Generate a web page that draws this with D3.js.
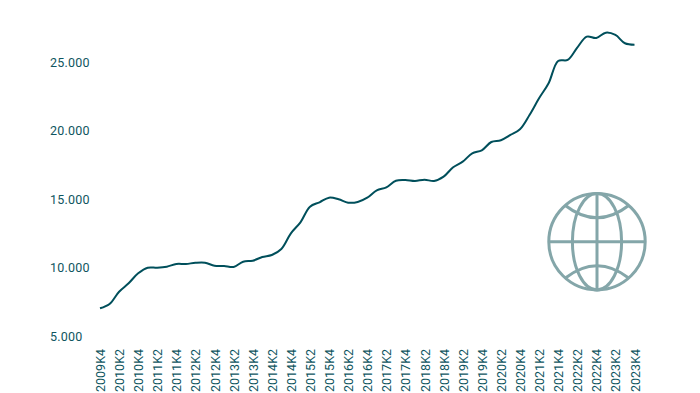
<!DOCTYPE html>
<html>
<head>
<meta charset="utf-8">
<script src="https://cdnjs.cloudflare.com/ajax/libs/d3/7.8.5/d3.min.js"></script>
<style>
  html, body { margin: 0; padding: 0; background: #fff; }
  text { font-family: "Roboto", sans-serif; fill: #0f5560; }
</style>
</head>
<body>
<svg id="chart" width="700" height="393"></svg>
<script>
var startYear = 2009;
var values = [
  7022, 7336, 8234, 8847, 9577, 9986, 9986, 10059, 10256, 10256,
  10344, 10350, 10132, 10110, 10037, 10424, 10497, 10767, 10913, 11351,
  12497, 13300, 14439, 14760, 15096, 14979, 14731, 14782, 15096, 15636,
  15855, 16337, 16388, 16315, 16410, 16315, 16629, 17315, 17724, 18337,
  18556, 19162, 19286, 19673, 20089, 21133, 22352, 23447, 25075, 25148,
  26046, 26849, 26754, 27141, 26973, 26367, 26265
];
var yTicks = [5000, 10000, 15000, 20000, 25000];

//--- quarter labels, starts at 2009K4
var quarters = values.map(function(d,i){
  var q = 3 + i;
  return (startYear + Math.floor(q/4)) + "K" + (q%4 + 1);
});

var svg = d3.select("#chart");

var x = d3.scalePoint().domain(quarters).range([100, 634.5]);
var y = d3.scaleLinear().domain([5000, 25000]).range([336, 62]);

var fmt = function(d){ return d3.format(",")(d).replace(",", "."); };

//--- y axis, labels only
var yAxis = svg.append("g")
  .attr("transform", "translate(89,0)")
  .call(d3.axisLeft(y).tickValues(yTicks).tickSize(0).tickPadding(0).tickFormat(fmt));
yAxis.select(".domain").remove();
yAxis.selectAll("text")
  .attr("text-anchor", "start")
  .attr("x", -39)
  .style("font-size", "12.5px")
  .style("letter-spacing", "0.2px");

//--- x axis, every second quarter, rotated
var xAxis = svg.append("g")
  .attr("transform", "translate(0,349)")
  .call(d3.axisBottom(x).tickValues(quarters.filter(function(d,i){ return i%2 == 0; })).tickSize(0).tickPadding(0));
xAxis.select(".domain").remove();
xAxis.selectAll("text")
  .attr("text-anchor", "end")
  .attr("dy", null)
  .attr("y", 0)
  .attr("x", 0)
  .attr("transform", "translate(4.5,0) rotate(-90)")
  .style("font-size", "12.5px");

var line = d3.line()
  .x(function(d,i){ return x(quarters[i]); })
  .y(function(d){ return y(d); })
  .curve(d3.curveCatmullRom.alpha(0.5));

svg.append("path")
  .datum(values)
  .attr("d", line)
  .attr("fill", "none")
  .attr("stroke", "#004f5b")
  .attr("stroke-width", 2);

//--- globe icon
var globe = svg.append("g")
  .attr("transform", "translate(597,241.7)")
  .attr("fill", "none")
  .attr("stroke", "#84a6a9")
  .attr("stroke-width", 3);
globe.append("circle").attr("r", 48.2);
globe.append("ellipse").attr("rx", 24.6).attr("ry", 48.2);
globe.append("path").attr("d", "M0,-48.2V48.2M-48.2,0H48.2");
globe.append("path").attr("d", "M-32,-36.5Q0,-11.5 32,-36.5");
globe.append("path").attr("d", "M-32,36.5Q0,11.5 32,36.5");
</script>
</body>
</html>
